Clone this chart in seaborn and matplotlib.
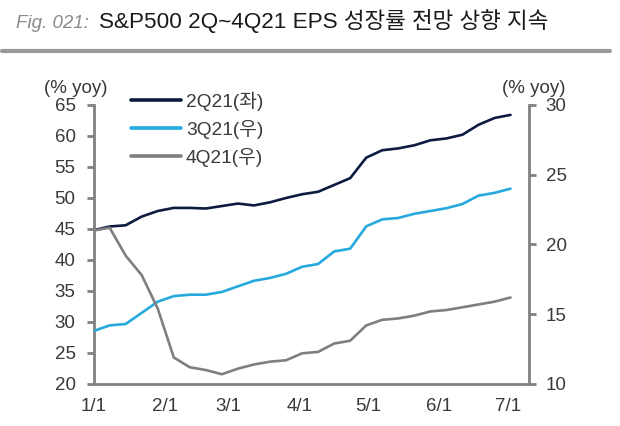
import matplotlib
matplotlib.use("Agg")
import matplotlib.pyplot as plt
from matplotlib.lines import Line2D
import seaborn as sns
import pandas as pd

# 주간 EPS 성장률 전망 (% yoy), 2021-01-01 부터 매주
eps_2q21 = [44.8, 45.4, 45.6, 47.0, 47.9, 48.4, 48.4, 48.3, 48.7, 49.1, 48.8, 49.3, 50.0, 50.6,
            51.0, 52.1, 53.2, 56.5, 57.7, 58.0, 58.5, 59.3, 59.6, 60.2, 61.8, 62.9, 63.4]
eps_3q21 = [13.8, 14.2, 14.3, 15.1, 15.9, 16.3, 16.4, 16.4, 16.6, 17.0, 17.4, 17.6, 17.9, 18.4,
            18.6, 19.5, 19.7, 21.3, 21.8, 21.9, 22.2, 22.4, 22.6, 22.9, 23.5, 23.7, 24.0]
eps_4q21 = [21.0, 21.2, 19.2, 17.8, 15.4, 11.9, 11.2, 11.0, 10.7, 11.1, 11.4, 11.6, 11.7, 12.2,
            12.3, 12.9, 13.1, 14.2, 14.6, 14.7, 14.9, 15.2, 15.3, 15.5, 15.7, 15.9, 16.2]
labels = ["2Q21(좌)", "3Q21(우)", "4Q21(우)"]
colors = ["#0d1b42", "#26a9dc", "#7f7f7f"]
month_ticks = ["2021-01-01", "2021-02-01", "2021-03-01", "2021-04-01",
               "2021-05-01", "2021-06-01", "2021-07-01"]

dates = pd.date_range("2021-01-01", periods=len(eps_2q21), freq="7D")
df = pd.DataFrame({"date": dates, "2Q21": eps_2q21, "3Q21": eps_3q21, "4Q21": eps_4q21})

sns.set_style("white")
plt.rcParams['font.family'] = ['Liberation Sans', 'Noto Sans CJK KR', 'DejaVu Sans']
text_col = "#3a3a3a"
spine_col = "#808080"
fs = 13.5

fig = plt.figure(figsize=(6.2, 4.26), dpi=100)
ax = fig.add_axes([0.151, 0.0986, 0.702, 0.655])
ax2 = ax.twinx()

sns.lineplot(data=df, x="date", y="2Q21", ax=ax, color=colors[0], linewidth=1.9)
sns.lineplot(data=df, x="date", y="3Q21", ax=ax2, color=colors[1], linewidth=1.9)
sns.lineplot(data=df, x="date", y="4Q21", ax=ax2, color=colors[2], linewidth=1.9)

ax.set_ylim(20, 65)
ax2.set_ylim(10, 30)
ax.set_yticks(range(20, 66, 5))
ax2.set_yticks(range(10, 31, 5))
start = pd.Timestamp("2021-01-01")
ax.set_xlim(start, start + pd.Timedelta(days=190))
ticks = pd.to_datetime(month_ticks)
ax.set_xticks(ticks)
ax.set_xticklabels([f"{d.month}/{d.day}" for d in ticks])
ax.set_xlabel("")
ax.set_ylabel("")
ax2.set_ylabel("")

for a in (ax, ax2):
    for s in a.spines.values():
        s.set_visible(False)
    a.tick_params(colors=spine_col, labelcolor=text_col, labelsize=fs,
                  length=5, width=2, direction="out")
ax.tick_params(axis="y", pad=8)
ax.tick_params(axis="x", pad=5)
ax2.tick_params(axis="y", pad=7)
ax.spines["left"].set_visible(True)
ax.spines["bottom"].set_visible(True)
ax2.spines["right"].set_visible(True)
for s in (ax.spines["left"], ax.spines["bottom"], ax2.spines["right"]):
    s.set_color(spine_col)
    s.set_linewidth(2)

ax.text(-0.04, 1.03, "(% yoy)", transform=ax.transAxes, fontsize=fs, color=text_col,
        ha="center", va="bottom")
ax.text(1.012, 1.03, "(% yoy)", transform=ax.transAxes, fontsize=fs, color=text_col,
        ha="center", va="bottom")

handles = [Line2D([], [], color=c, linewidth=2.6) for c in colors]
ax.legend(handles, labels, loc="upper left", bbox_to_anchor=(0.046, 1.11), frameon=False,
          fontsize=13.8, handlelength=2.6, handletextpad=0.27, labelspacing=0.46,
          labelcolor=text_col)

# 제목
fig.text(0.026, 0.934, "Fig. 021:", fontsize=13.5, style="italic", color="#8a8a8a",
         va="baseline")
fig.text(0.160, 0.934, "S&P500 2Q~4Q21 EPS 성장률 전망 상향 지속", fontsize=16.2,
         color="#1a1a1a", va="baseline")
fig.add_artist(Line2D([0.003, 0.984], [0.88, 0.88], color="#999999", linewidth=3,
                      transform=fig.transFigure))

fig.savefig("out.png", dpi=100)
